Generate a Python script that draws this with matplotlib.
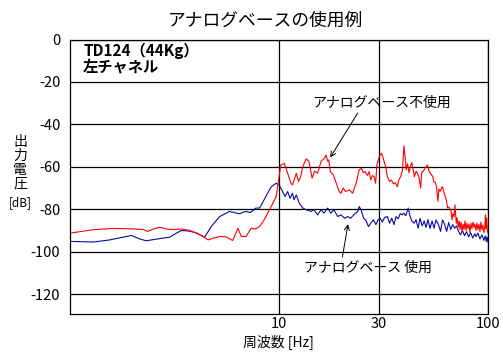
import numpy as np
import matplotlib
matplotlib.use("Agg")
import matplotlib.pyplot as plt

plt.rcParams['font.family'] = ['Noto Sans CJK JP', 'DejaVu Sans']

# red: without analog base
red_f = [1.0, 1.29, 1.61, 2.0, 2.24, 2.35, 2.5, 2.69, 2.9, 3.11, 3.41, 3.7, 4.02, 4.33, 4.58,
         4.9, 5.2, 5.6, 6.0, 6.36, 6.6, 6.95, 7.36, 7.7, 8.07, 8.5, 9.0, 9.35, 9.7, 9.9,
         10.2, 10.6, 11.0, 11.4, 11.6, 12.1, 12.4, 12.7, 13.0, 13.5, 13.9, 14.4, 14.8, 15.3,
         15.9, 16.5, 16.8, 17.1, 17.3, 17.6, 18.2, 19.4, 19.8, 20.3, 20.8, 21.7, 22.5, 23.4,
         24.2, 24.8, 25.3, 25.8, 26.5, 27.0, 27.5, 28.0, 28.5, 29.0, 29.4, 30.2, 31.0, 31.7,
         32.4, 33.0, 33.8, 34.5, 35.3, 36.0, 36.8, 37.5, 38.2, 39.0, 39.6, 40.1, 40.6, 41.2,
         41.9, 42.5, 43.2, 43.8, 44.4, 45.3, 46.0, 46.8, 47.6, 48.2, 49.0, 49.8, 50.5, 51.4,
         52.2, 53.0, 54.4, 55.0, 56.0, 56.8, 57.6, 58.2, 59.0, 60.5, 61.5, 62.5, 63.3, 64.1,
         65.0, 66.0, 66.6, 67.3, 68.0, 68.8, 69.5, 70.5, 71.2, 72.0, 72.8, 73.5, 74.3, 75.1,
         76.0, 76.8, 77.6, 78.5, 79.3, 80.2, 81.1, 82.0, 82.9, 83.8, 84.8, 85.7, 86.6, 87.6,
         88.5, 89.5, 90.5, 91.5, 92.5, 93.5, 94.5, 95.6, 96.6, 97.2, 97.8, 98.5, 99.2, 100.0]
red_db = [-91.2, -89.6, -89.0, -89.2, -89.5, -90.4, -89.3, -88.4, -89.3, -89.5, -89.3, -89.8,
          -91.2, -92.8, -94.4, -93.4, -92.8, -93.0, -94.7, -88.9, -92.8, -92.8, -88.9, -89.3,
          -88.1, -84.9, -80.2, -77.1, -73.9, -67.7, -59.1, -58.3, -63.0, -67.7, -68.5, -63.0,
          -66.9, -64.6, -59.9, -56.2, -57.4, -65.3, -62.0, -63.0, -57.4, -55.9, -54.4, -57.4,
          -56.7, -62.2, -63.8, -71.6, -72.4, -70.0, -71.6, -70.8, -72.4, -67.7, -61.4, -60.6,
          -62.8, -62.2, -64.0, -62.2, -66.1, -64.0, -64.6, -67.7, -59.1, -55.0, -53.6, -56.7,
          -60.0, -64.6, -66.9, -66.2, -68.0, -67.5, -69.3, -66.0, -64.6, -61.4, -50.1, -55.0,
          -61.4, -58.5, -62.8, -60.0, -58.0, -61.0, -64.6, -62.0, -63.0, -65.0, -70.0, -62.5,
          -62.0, -61.0, -60.0, -59.1, -62.0, -63.0, -64.6, -67.0, -67.3, -70.0, -76.3, -70.5,
          -71.5, -69.3, -72.0, -74.0, -76.0, -79.4, -79.0, -80.0, -81.0, -84.9, -82.0, -83.5,
          -77.9, -86.5, -84.0, -88.5, -85.5, -89.5, -86.0, -90.5, -87.0, -89.5, -85.5, -90.0,
          -86.5, -89.0, -87.0, -91.0, -86.5, -89.0, -86.0, -88.5, -87.0, -90.0, -86.5, -89.5,
          -87.0, -90.5, -86.0, -89.5, -87.5, -91.0, -88.0, -82.6, -89.0, -84.0, -90.0, -91.2]

# blue: with analog base
blue_f = [1.0, 1.29, 1.55, 1.97, 2.16, 2.32, 2.6, 3.0, 3.23, 3.41, 3.7, 4.0, 4.41, 4.74, 5.2,
          5.8, 6.47, 6.9, 7.3, 7.75, 8.07, 8.4, 8.66, 9.0, 9.2, 9.7, 10.0, 10.4, 10.7, 11.0,
          11.3, 11.6, 11.8, 12.1, 12.5, 13.0, 13.5, 14.2, 14.7, 15.3, 15.9, 16.4, 17.1, 17.7,
          18.3, 19.1, 19.8, 20.6, 21.3, 22.0, 22.8, 23.8, 24.2, 24.7, 25.4, 26.0, 26.8, 27.5,
          28.3, 29.1, 29.8, 30.5, 31.2, 32.0, 33.0, 33.8, 34.6, 35.5, 36.3, 37.2, 38.0, 38.8,
          39.5, 40.4, 41.5, 42.3, 43.2, 44.3, 45.3, 46.3, 47.3, 48.4, 49.5, 50.5, 51.6, 52.8,
          54.0, 55.2, 56.4, 57.8, 59.3, 60.6, 62.0, 63.4, 64.8, 66.3, 67.8, 69.3, 70.8, 72.3,
          73.8, 75.5, 77.2, 79.0, 80.8, 82.6, 84.5, 86.5, 87.6, 89.5, 91.5, 93.5, 95.5, 97.0,
          98.0, 99.0, 100.0]
blue_db = [-95.1, -95.4, -94.4, -92.3, -94.0, -94.8, -94.0, -93.1, -91.2, -90.0, -90.2, -91.0,
           -93.1, -88.1, -83.4, -81.0, -82.1, -81.0, -81.5, -79.4, -79.4, -76.3, -73.9, -70.8,
           -69.3, -67.7, -68.5, -71.6, -73.9, -71.6, -74.8, -72.4, -75.5, -73.2, -77.1, -79.4,
           -80.2, -81.0, -80.2, -82.6, -80.2, -81.8, -79.4, -81.8, -80.2, -83.4, -82.6, -84.2,
           -83.4, -84.2, -82.6, -81.0, -78.7, -80.2, -84.2, -85.0, -88.1, -86.5, -84.9, -87.2,
           -84.9, -84.2, -86.0, -83.8, -83.4, -86.5, -84.2, -87.2, -83.4, -84.5, -82.0, -82.6,
           -81.8, -83.0, -79.4, -83.0, -85.5, -86.5, -85.0, -88.9, -84.2, -87.8, -85.5, -88.5,
           -84.8, -89.0, -85.5, -88.9, -85.0, -87.0, -90.4, -85.0, -87.0, -90.4, -86.2, -89.5,
           -87.2, -88.9, -87.8, -90.4, -92.0, -90.0, -92.4, -90.5, -93.0, -91.0, -93.5, -91.5,
           -92.8, -91.2, -94.0, -92.0, -94.6, -92.5, -95.1, -93.0, -95.5]

yticks = [0, -20, -40, -60, -80, -100, -120]
xticks = [10, 30, 100]
xticklabels = ["10", "30", "100"]

W, H = 503, 352
fig = plt.figure(figsize=(W / 100, H / 100), dpi=100)
ax = fig.add_axes([70 / W, 1 - 314 / H, 418 / W, 274.5 / H])

ax.plot(blue_f, blue_db, color='#0a0a9c', lw=0.8)
ax.plot(red_f, red_db, color='#ff0000', lw=0.8)

ax.set_xscale('log')
ax.set_xlim(1, 100)
ax.set_ylim(-129.3, 0)
ax.set_xticks(xticks)
ax.set_xticklabels(xticklabels)
ax.xaxis.set_minor_locator(matplotlib.ticker.NullLocator())
ax.set_yticks(yticks)
ax.set_yticklabels([str(v) for v in yticks])
ax.tick_params(axis='both', length=0, labelsize=10.5)
ax.tick_params(axis='y', pad=7)
ax.tick_params(axis='x', pad=2)
ax.grid(True, color='black', lw=0.9)
ax.set_axisbelow(True)
for s in ax.spines.values():
    s.set_linewidth(0.9)

# annotations
ax.annotate("", xy=(17.3, -56.7), xytext=(24.2, -33.5),
            arrowprops=dict(arrowstyle='->', color='black', lw=0.7, mutation_scale=9))
ax.text(30.9, -29.9, "アナログベース不使用", fontsize=10, ha='center', va='center')
ax.annotate("", xy=(21.5, -85.7), xytext=(20.0, -103.8),
            arrowprops=dict(arrowstyle='->', color='black', lw=0.7, mutation_scale=9))
ax.text(26.8, -107.5, "アナログベース 使用", fontsize=10, ha='center', va='center')

def fx(px):
    return px / W

def fy(py):
    return 1 - py / H

fig.text(fx(265), fy(21), "アナログベースの使用例", fontsize=12.8, ha='center', va='center')
fig.text(fx(83), fy(51), "TD124（44Kg）", fontsize=11, fontweight='bold', ha='left', va='center')
fig.text(fx(83), fy(67), "左チャネル", fontsize=11, fontweight='bold', ha='left', va='center')
fig.text(fx(20), fy(163), "出\n力\n電\n圧", fontsize=10, ha='center', va='center', linespacing=1.0)
fig.text(fx(20), fy(203), "[dB]", fontsize=8.5, ha='center', va='center')
fig.text(fx(278), fy(342), "周波数 [Hz]", fontsize=10, ha='center', va='center')

fig.savefig("out.png", dpi=100)
